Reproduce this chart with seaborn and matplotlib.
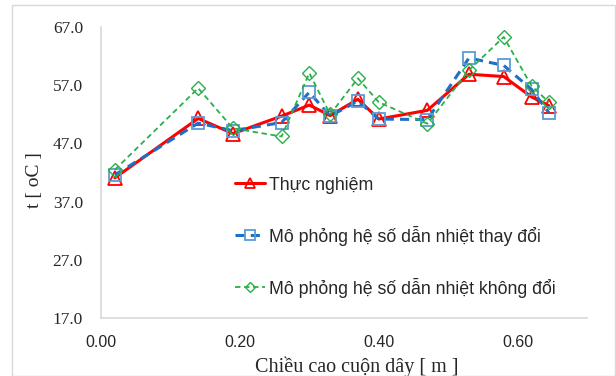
import matplotlib
matplotlib.use('Agg')
import matplotlib.pyplot as plt
import matplotlib.patches as patches
import numpy as np
import pandas as pd
import seaborn as sns

sns.set_theme(style='white')
plt.rcParams['font.family'] = ['Liberation Sans', 'DejaVu Sans']

# du lieu doc tu hinh
chieu_cao = [0.02, 0.14, 0.19, 0.26, 0.30, 0.33, 0.37, 0.40, 0.47, 0.53, 0.58, 0.62, 0.645]
thuc_nghiem = [41.1, 51.3, 48.7, 51.7, 53.6, 51.8, 54.6, 51.2, 52.7, 58.9, 58.5, 55.0, 53.5]
mp_thay_doi = [41.6, 50.5, 49.2, 50.6, 55.8, 51.7, 54.3, 51.2, 51.1, 61.7, 60.4, 56.3, 52.3]
mp_khong_doi = [42.5, 56.5, 49.6, 48.2, 59.1, 52.0, 58.2, 54.1, 50.4, 59.6, 65.3, 56.9, 54.1]

ten_series = ['Thực nghiệm',
              'Mô phỏng hệ số dẫn nhiệt thay đổi',
              'Mô phỏng hệ số dẫn nhiệt không đổi']
y_ticks = [17.0, 27.0, 37.0, 47.0, 57.0, 67.0]
x_ticks = [0.00, 0.20, 0.40, 0.60]

df = pd.DataFrame({
    'x': chieu_cao * 3,
    't': thuc_nghiem + mp_thay_doi + mp_khong_doi,
    'series': [ten_series[0]] * 13 + [ten_series[1]] * 13 + [ten_series[2]] * 13,
})

fig = plt.figure(figsize=(6.16, 3.76), dpi=100)
ax = fig.add_axes([0.164, 0.154, 0.789, 0.774])

# thuc nghiem
sns.lineplot(data=df[df.series == ten_series[0]], x='x', y='t', ax=ax,
             color='#ff0000', linewidth=2.2, marker='^', markersize=10,
             markerfacecolor='none', markeredgecolor='#ff0000', markeredgewidth=1.3,
             label=ten_series[0])
# mo phong thay doi
sns.lineplot(data=df[df.series == ten_series[1]], x='x', y='t', ax=ax,
             color='#1f6fc5', linewidth=2.2, marker='s', markersize=9,
             markerfacecolor='none', markeredgecolor='#5b9bd5', markeredgewidth=1.3,
             linestyle=(0, (3, 2)), label=ten_series[1])
# mo phong khong doi
sns.lineplot(data=df[df.series == ten_series[2]], x='x', y='t', ax=ax,
             color='#2ab04a', linewidth=1.3, marker='D', markersize=7,
             markerfacecolor='none', markeredgecolor='#2ab04a', markeredgewidth=1.0,
             linestyle=(0, (3, 2)), label=ten_series[2])

ax.set_xlim(0, 0.7)
ax.set_ylim(17, 67)
ax.set_xticks(x_ticks)
ax.set_xticklabels([f'{v:.2f}' for v in x_ticks], fontsize=11.5)
ax.set_yticks(y_ticks)
ax.set_yticklabels([f'{v:.1f}' for v in y_ticks], fontsize=12.5, family='Liberation Serif')
ax.tick_params(axis='y', length=0, pad=13)
ax.tick_params(axis='x', length=0, pad=12)

for s in ['top', 'right']:
    ax.spines[s].set_visible(False)
for s in ['left', 'bottom']:
    ax.spines[s].set_color('#d9d9d9')
    ax.spines[s].set_linewidth(1.2)
ax.grid(False)

ax.set_xlabel('Chiều cao cuộn dây [ m ]', family='Liberation Serif', fontsize=14.5, va='center')
ax.xaxis.set_label_coords(0.527, -0.168)
ax.set_ylabel('t [ oC ]', family='Liberation Serif', fontsize=14, va='center')
ax.yaxis.set_label_coords(-0.136, 0.474)

leg = ax.legend(loc='center left', bbox_to_anchor=(0.276, 0.278), frameon=False,
                fontsize=12.8, handlelength=1.7, handletextpad=0.2, labelspacing=1.8,
                borderaxespad=0, borderpad=0, markerscale=0.75)

# khung ngoai
fig.patches.append(patches.Rectangle((12 / 616, 0), 1 - 13 / 616, 1 - 5 / 376,
                                     transform=fig.transFigure, fill=False,
                                     edgecolor='#d9d9d9', linewidth=1))

fig.savefig('out.png', dpi=100)
